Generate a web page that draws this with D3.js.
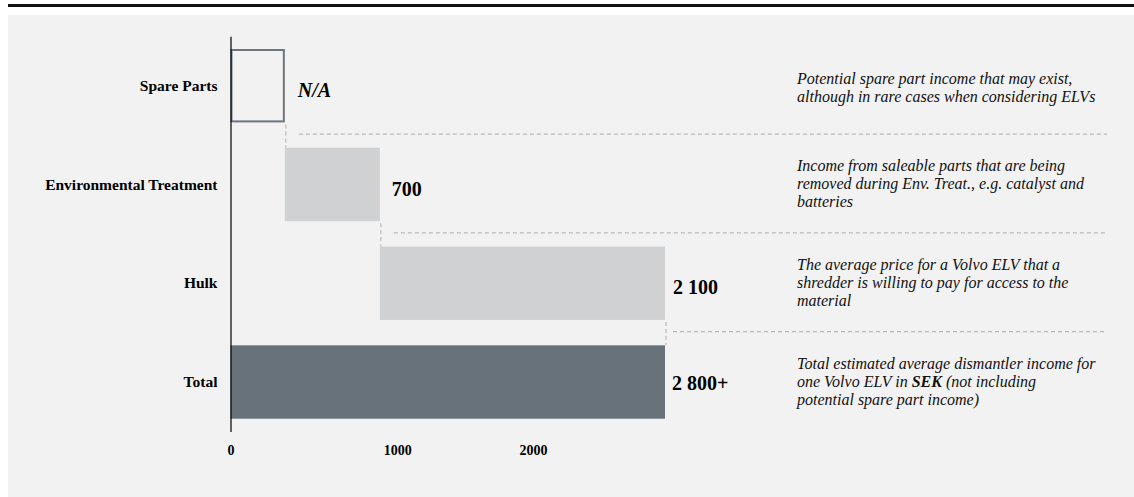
<!DOCTYPE html>
<html>
<head>
<meta charset="utf-8">
<script src="https://cdn.jsdelivr.net/npm/d3@7"></script>
<style>
  html, body { margin: 0; padding: 0; background: #ffffff; }
  svg { display: block; }
</style>
</head>
<body>
<svg id="chart" width="1134" height="497"></svg>
<script>
// Dismantler income per Volvo ELV (SEK), shown as a waterfall
const categories = ["Spare Parts", "Environmental Treatment", "Hulk", "Total"];
// Spare parts has no figure (N/A); it is drawn as an open placeholder step
const componentValues = [400, 700, 2100];
const valueLabels = ["N/A", "700", "2 100", "2 800+"];
const tickValues = [0, 1000, 2000];
const noteLines = [
  [["Potential spare part income that may exist,"], ["although in rare cases when considering ELVs"]],
  [["Income from saleable parts that are being"], ["removed during Env. Treat., e.g. catalyst and"], ["batteries"]],
  [["The average price for a Volvo ELV that a"], ["shredder is willing to pay for access to the"], ["material"]],
  [["Total estimated average dismantler income for"], ["one Volvo ELV in ", "SEK", " (not including"], ["potential spare part income)"]]
];

const W = 1134, H = 497;
const serif = "'Liberation Serif', 'Times New Roman', Times, serif";
const svg = d3.select("#chart");

// page frame: rule on top, grey panel below
svg.append("rect").attr("x", 8).attr("y", 4).attr("width", W - 8).attr("height", 3).attr("fill", "#111");
svg.append("rect").attr("x", 8).attr("y", 15).attr("width", W - 8).attr("height", H - 15).attr("fill", "#f2f2f2");

// waterfall steps
const total = d3.sum(componentValues);
let acc = 0;
const rows = componentValues.map((v, i) => {
  const r = { cat: categories[i], start: acc, end: acc + v, kind: i === 0 ? "open" : "step" };
  acc += v;
  return r;
});
rows.push({ cat: categories[3], start: 0, end: total, kind: "total" });

const x = d3.scaleLinear().domain([0, total]).range([230.5, 665]);
const y = d3.scaleBand().domain(categories).range([36.3, 431.4]).paddingInner(0.257).paddingOuter(0.1285);
const bw = y.bandwidth();

// connectors and separators
const guides = svg.append("g").attr("fill", "none").attr("stroke", "#b9b9b9").attr("stroke-width", 1.2).attr("stroke-dasharray", "4,3");
rows.slice(0, 3).forEach((r, i) => {
  const yBottom = y(r.cat) + bw;
  const yNext = y(rows[i + 1].cat);
  guides.append("line")
    .attr("x1", x(r.end) + 1).attr("x2", x(r.end) + 1)
    .attr("y1", yBottom + 2).attr("y2", yNext);
  guides.append("line")
    .attr("x1", x(r.end) + (i === 2 ? 8 : 14)).attr("x2", 1107)
    .attr("y1", (yBottom + yNext) / 2 - 1).attr("y2", (yBottom + yNext) / 2 - 1);
});

// bars
const fills = { step: "#cfd1d3", total: "#68727a" };
svg.append("g").selectAll("rect").data(rows).join("rect")
  .attr("x", d => d.kind === "open" ? x(d.start) + 1 : x(d.start))
  .attr("y", d => d.kind === "open" ? y(d.cat) + 1 : y(d.cat))
  .attr("width", d => d.kind === "open" ? x(d.end) - x(d.start) - 2 : x(d.end) - x(d.start))
  .attr("height", d => d.kind === "open" ? bw - 2 : bw)
  .attr("fill", d => d.kind === "open" ? "none" : fills[d.kind])
  .attr("stroke", d => d.kind === "open" ? "#6d767e" : "none")
  .attr("stroke-width", 2);

// y axis: category names and the zero line
const yAxis = svg.append("g").attr("transform", `translate(${x(0)},0)`)
  .call(d3.axisLeft(y).tickSize(0).tickSizeOuter(0).tickPadding(13));
yAxis.select(".domain").attr("stroke", "#000").attr("stroke-width", 1.2);
yAxis.selectAll("text")
  .attr("font-family", serif).attr("font-size", 15.5).attr("font-weight", "bold").attr("fill", "#000")
  .attr("dy", "0.33em");

// x axis labels only
const xAxis = svg.append("g").attr("transform", `translate(0,${y.range()[1]})`)
  .call(d3.axisBottom(x).tickValues(tickValues).tickFormat(d3.format("d")).tickSize(0).tickPadding(14));
xAxis.select(".domain").remove();
xAxis.selectAll("text")
  .attr("font-family", serif).attr("font-size", 14).attr("font-weight", "bold").attr("fill", "#000")
  .attr("dx", d => d === 0 ? 0 : 31);

// value labels
const labelDx = [13, 12, 8, 7];
const labelDy = [11, 12, 11, 7.5];
svg.append("g").selectAll("text").data(rows).join("text")
  .attr("x", (d, i) => x(d.end) + labelDx[i])
  .attr("y", (d, i) => y(d.cat) + bw / 2 + labelDy[i])
  .attr("font-family", serif).attr("font-size", 20).attr("font-weight", "bold")
  .attr("font-style", (d, i) => i === 0 ? "italic" : "normal")
  .attr("fill", "#000")
  .text((d, i) => valueLabels[i]);

// notes on the right
const notes = svg.append("g").attr("font-family", serif).attr("font-size", 16).attr("font-style", "italic").attr("fill", "#111");
noteLines.forEach((lines, i) => {
  const cy = y(categories[i]) + bw / 2 + 5;
  const first = cy - (lines.length - 1) * 18 / 2 + (i === 0 ? 2 : 0);
  const t = notes.append("text");
  lines.forEach((parts, j) => {
    parts.forEach((p, k) => {
      const ts = t.append("tspan").text(p);
      if (k === 0) ts.attr("x", 797).attr("y", first + j * 18);
      if (p === "SEK") ts.attr("font-weight", "bold");
    });
  });
});
</script>
</body>
</html>
